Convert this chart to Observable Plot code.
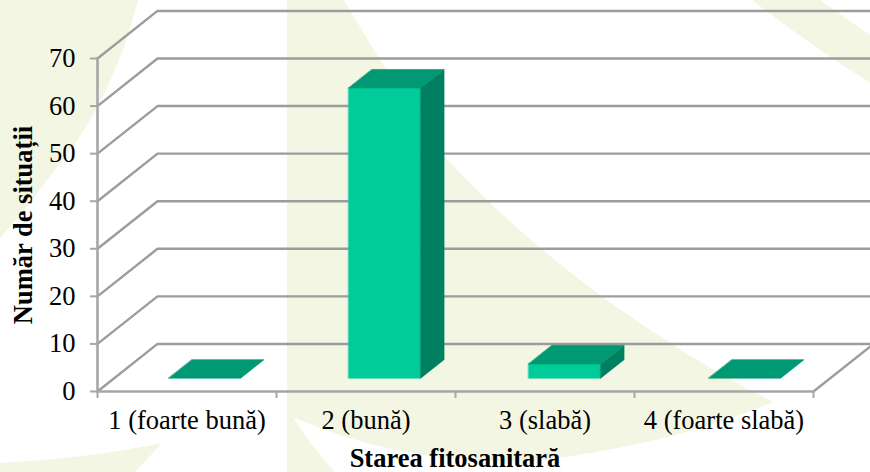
<!DOCTYPE html>
<html lang="ro">
<head>
<meta charset="utf-8">
<script src="https://cdn.jsdelivr.net/npm/d3@7"></script>
<script src="https://cdn.jsdelivr.net/npm/@observablehq/plot@0.6"></script>
<style>
html,body{margin:0;padding:0;background:#fff;}
#chart{
  width:870px;height:472px;overflow:hidden;
  background-repeat:no-repeat;
  background-image:url("data:image/svg+xml;utf8,<svg xmlns='http://www.w3.org/2000/svg' width='870' height='472'><g fill='%23f4f6e4'><path d='M0 0H138Q112 105 47 180Q25 210 0 238Z'/><path d='M287 0H344Q400 95 445 157Q540 260 670 343Q720 375 773 402Q673 445 533 461Q400 465 293 417Q310 445 335 472H287Z'/><path d='M0 463Q90 458 162 443L135 472H0Z'/><path d='M752 0H820Q845 18 870 35V83Q810 45 752 0Z'/></g></svg>");
}
</style>
</head>
<body>
<div id="chart"></div>
<script>
const categories = ["1 (foarte bună)", "2 (bună)", "3 (slabă)", "4 (foarte slabă)"];
const counts = [0, 61, 3, 0];
const yTicks = [0, 10, 20, 30, 40, 50, 60, 70];
const xTitle = "Starea fitosanitară";
const yTitle = "Număr de situații";

// Oblique 3D projection: depth 0..1 shifts by these amounts in scale units.
const W = 870, H = 472, mL = 97, mT = 58, mB = 81;
const catSpan = 179;                    // px per category
const depthX = 60 / catSpan;            // category units per full depth
const depthY = 10;                      // value units per full depth
const xMax = (W - mL) / catSpan;
const barW = 0.403, barStep = 180 / 179, barStart = 0.303, d0 = 0.28, d1 = 0.67;
const P = (c, v, d) => ({x: c + d * depthX, y: v + d * depthY});

const n = categories.length;
const gridRows = [];
yTicks.forEach(v => {
  [[0, v, 0], [0, v, 1], [xMax - depthX, v, 1]].forEach(([c, y, d]) => gridRows.push({...P(c, y, d), g: "w" + v}));
});
const floorRight = [P(n, 0, 0), P(n, 0, 1)].map(p => ({...p, g: "floor"}));
const frameRows = [
  ...[P(0, 0, 0), P(0, 70, 0)].map(p => ({...p, g: "yaxis"})),
  ...[P(0, 0, 0), P(n, 0, 0)].map(p => ({...p, g: "xaxis"}))
];

const faces = [];
counts.forEach((v, i) => {
  const a = barStart + i * barStep, b = a + barW;
  const add = (name, fill, pts) => pts.forEach(p => faces.push({...P(...p), f: i + name, fill}));
  if (v > 0) {
    add("front", "#00cc99", [[a, 0, d0], [b, 0, d0], [b, v, d0], [a, v, d0]]);
    add("side", "#008060", [[b, 0, d0], [b, 0, d1], [b, v, d1], [b, v, d0]]);
  }
  add("top", "#009973", [[a, v, d0], [b, v, d0], [b, v, d1], [a, v, d1]]);
});

const font = "'Liberation Serif','Times New Roman',serif";
const grey = "#9c9c9c";
const fs = 26.5;
const plot = Plot.plot({
  width: W, height: H,
  marginLeft: mL, marginRight: 0, marginTop: mT, marginBottom: mB,
  style: {background: "transparent", fontFamily: font, color: "#000"},
  x: {domain: [0, xMax], axis: null},
  y: {domain: [0, 70], axis: null},
  marks: [
    Plot.line(gridRows, {x: "x", y: "y", z: "g", stroke: grey, strokeWidth: 2.4, strokeLinejoin: "miter"}),
    Plot.line(floorRight, {x: "x", y: "y", z: "g", stroke: grey, strokeWidth: 2.4}),
    Plot.line(frameRows, {x: "x", y: "y", z: "g", stroke: "#a6a6a6", strokeWidth: 2.6}),
    Plot.axisY({ticks: yTicks, tickSize: 7, tickPadding: 15, stroke: "#a6a6a6", strokeWidth: 2, color: "#000", fontSize: fs, label: null, tickFormat: d => d}),
    Plot.axisX({ticks: d3.range(n + 1), tickSize: 7, stroke: "#a6a6a6", strokeWidth: 2, tickFormat: () => "", label: null}),
    Plot.axisX({ticks: categories.map((_, i) => i + 0.5), tickSize: 0, tickPadding: 19, color: "#000", fontSize: fs, label: null, tickFormat: d => categories[d - 0.5]}),
    Plot.line(faces, {x: "x", y: "y", z: "f", fill: "fill", stroke: "fill", strokeWidth: 0.6, curve: "linear-closed"}),
    Plot.text([xTitle], {frameAnchor: "middle", dx: -29, dy: 233.2, text: d => d, fontSize: fs, fontWeight: "bold", fill: "#000"}),
    Plot.text([yTitle], {frameAnchor: "middle", dx: -460, dy: 0, rotate: -90, text: d => d, fontSize: fs, fontWeight: "bold", fill: "#000"})
  ]
});
document.getElementById("chart").appendChild(plot);
</script>
</body>
</html>
